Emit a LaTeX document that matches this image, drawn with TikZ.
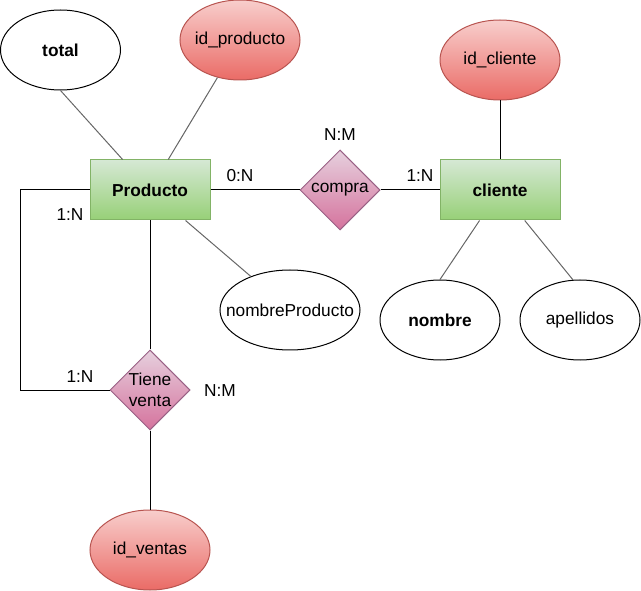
\documentclass[tikz,border=0pt]{standalone}
\usepackage{fontspec}
\setmainfont{Liberation Sans}
\usetikzlibrary{shapes.geometric}
\definecolor{gtop}{HTML}{D5E8D4}\definecolor{gbot}{HTML}{97D077}\definecolor{gline}{HTML}{82B366}
\definecolor{rtop}{HTML}{F8CECC}\definecolor{rbot}{HTML}{EA6B66}\definecolor{rline}{HTML}{B85450}
\definecolor{ptop}{HTML}{E6D0DE}\definecolor{pbot}{HTML}{D5739D}\definecolor{pline}{HTML}{996185}
\definecolor{attr}{HTML}{666666}
\newcommand{\mysize}{\fontsize{17.3}{21}\selectfont}
\begin{document}
\begin{tikzpicture}[x=1pt,y=-1pt,
  every node/.style={font=\mysize, inner sep=0pt},
  entity/.style={rectangle, draw=gline, line width=1pt, top color=gtop, bottom color=gbot, minimum width=120pt, minimum height=60pt, font=\mysize\bfseries},
  keyattr/.style={ellipse, draw=rline, line width=1pt, top color=rtop, bottom color=rbot, minimum width=120pt, minimum height=80pt, inner xsep=-25pt},
  plainattr/.style={ellipse, draw=black, line width=1pt, fill=white, minimum width=120pt, minimum height=80pt, inner xsep=-25pt},
  relbox/.style={diamond, shape aspect=1, draw=pline, line width=1pt, top color=ptop, bottom color=pbot, minimum width=80pt, minimum height=80pt, align=center, inner xsep=-20pt},
  card/.style={font=\mysize},
  attrline/.style={draw=attr, line width=1pt},
  relline/.style={draw=black, line width=1pt}]
\useasboundingbox (0,0) rectangle (641,591);
% nodes
\node[entity] (prod) at (150,190) {Producto};
\node[entity] (cli) at (500,190) {cliente};
\node[plainattr, font=\mysize\bfseries] (tot) at (60.5,50) {total};
\node[keyattr] (idp) at (240,40) {id\_producto};
\node[keyattr] (idc) at (500,60) {id\_cliente};
\node[plainattr, minimum width=140pt] (nprod) at (290,310) {nombreProducto};
\node[plainattr, font=\mysize\bfseries] (nom) at (440,320) {nombre};
\node[plainattr] (ape) at (580,320) {apellidos};
\node[relbox] (comp) at (340,190) {compra};
\node[relbox] (tv) at (150,390) {Tiene\\venta};
\node[keyattr] (idv) at (150,550) {id\_ventas};
\coordinate (c1) at (20,190);
\coordinate (c2) at (20,390);
% connectors
\path[attrline] (tot.south) -- (prod);
\path[attrline] (idp) -- (prod);
\path[attrline] (prod) -- (nprod);
\path[attrline] (nom.north) -- (cli);
\path[attrline] (ape.100) -- (cli);
\path[relline] (idc) -- (cli);
\path[relline] (prod) -- (comp);
\path[relline] (comp) -- (cli);
\path[relline] (prod) -- (tv);
\path[relline] (tv) -- (idv);
\path[relline] (prod.west) -- (c1) -- (c2) -- (tv.west);
% labels
\node[card] (l1) at (240,176) {0:N};
\node[card] (l2) at (420,176) {1:N};
\node[card] (l3) at (340,135) {N:M};
\node[card] (l4) at (70,215) {1:N};
\node[card] (l5) at (80,377) {1:N};
\node[card] (l6) at (220,391) {N:M};
\end{tikzpicture}
\end{document}
